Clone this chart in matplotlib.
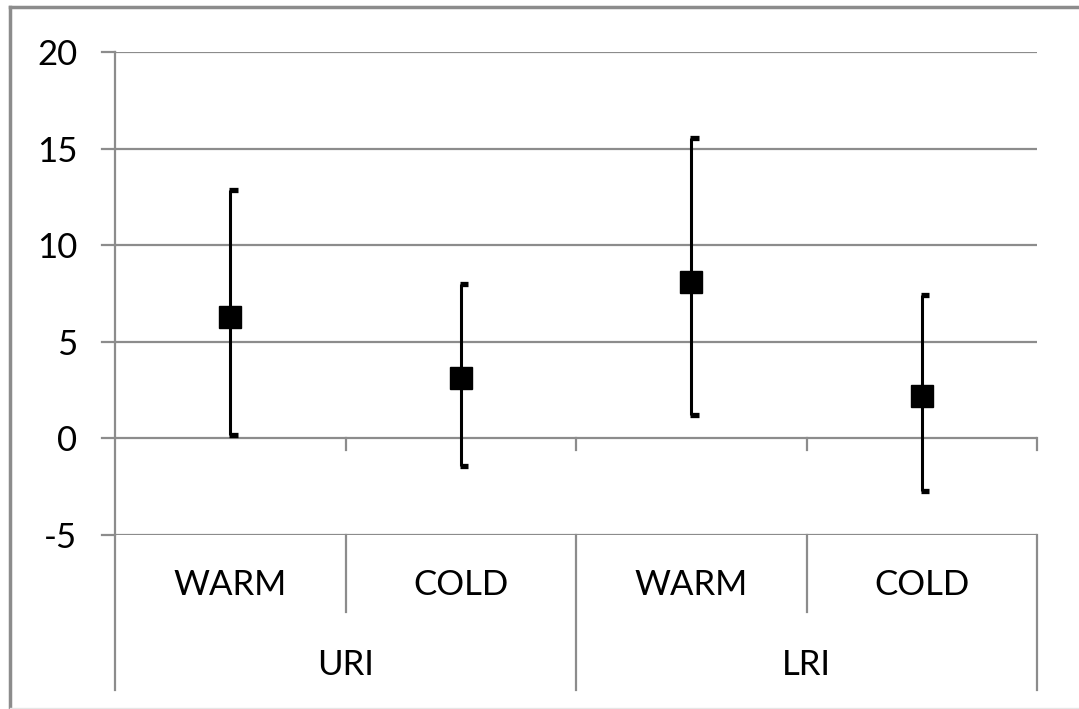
import matplotlib
matplotlib.use("Agg")
import matplotlib.pyplot as plt
from matplotlib.lines import Line2D

groups = ["URI", "LRI"]
conditions = ["WARM", "COLD", "WARM", "COLD"]
means = [6.3, 3.15, 8.1, 2.2]
highs = [12.85, 8.0, 15.55, 7.4]
lows = [0.2, -1.45, 1.2, -2.7]
yticks = [-5, 0, 5, 10, 15, 20]

GRID = "#8c8c8c"
plt.rcParams["font.family"] = ["Lato", "DejaVu Sans"]

fig = plt.figure(figsize=(10.79, 7.09), dpi=100)
W, H = 1079, 709
left, right, top, bottom = 115 / W, 1037 / W, 1 - 52 / H, 1 - 535 / H
ax = fig.add_axes([left, bottom, right - left, top - bottom])

n = len(conditions)
xs = [i + 0.5 for i in range(n)]
ax.set_xlim(0, n)
ax.set_ylim(-5, 20)

for y in yticks:
    ax.axhline(y, color=GRID, lw=1.6, zorder=1)

# high-low lines with small right-side ticks
ax.vlines(xs, lows, highs, color="black", lw=2.2, zorder=3)
cap = 0.032
ax.hlines(highs, [x - 0.004 for x in xs], [x + cap for x in xs], color="black", lw=3.8, zorder=3)
ax.hlines(lows, [x - 0.004 for x in xs], [x + cap for x in xs], color="black", lw=3.8, zorder=3)
ax.plot(xs, means, ls="none", marker="s", ms=15.5, color="black", zorder=4)

for s in ax.spines.values():
    s.set_visible(False)
ax.set_xticks([])
ax.set_yticks(yticks)
ax.set_yticklabels([str(v) for v in yticks], fontsize=25)
ax.tick_params(axis="y", length=0, pad=27)

# left axis line with outward ticks
axis_bottom = -(690 - 535) / (535 - 52)
ax.add_line(Line2D([0, 0], [axis_bottom, 1], transform=ax.transAxes, color=GRID, lw=1.6, clip_on=False))
for y in yticks:
    ax.add_line(Line2D([-13 / 922, 0], [(y + 5) / 25] * 2, transform=ax.transAxes,
                       color=GRID, lw=1.6, clip_on=False))

# small ticks on the zero line
bt = ax.get_xaxis_transform()
for i in range(1, n + 1):
    ax.add_line(Line2D([i, i], [0.2, 0.2 - 12 / 483], transform=bt, color=GRID, lw=1.6, clip_on=False))

# two-level category axis
row1 = -(612 - 535) / 483
for i in range(1, n):
    yb = axis_bottom if i % 2 == 0 else row1
    ax.add_line(Line2D([i, i], [0, yb], transform=bt, color=GRID, lw=1.6, clip_on=False))
ax.add_line(Line2D([n, n], [0, axis_bottom], transform=bt, color=GRID, lw=1.6, clip_on=False))

for x, c in zip(xs, conditions):
    ax.text(x, -(585 - 535) / 483, c, transform=bt, ha="center", va="center", fontsize=25)
for j, g in enumerate(groups):
    ax.text(2 * j + 1, -(665 - 535) / 483, g, transform=bt, ha="center", va="center", fontsize=25)

# outer chart border
fig.add_artist(Line2D([10 / W, 10 / W], [0, 1 - 7 / H], transform=fig.transFigure, color=GRID, lw=2.5))
fig.add_artist(Line2D([10 / W, 1], [1 - 7 / H, 1 - 7 / H], transform=fig.transFigure, color=GRID, lw=2.5))
fig.add_artist(Line2D([10 / W, 1], [1 / H, 1 / H], transform=fig.transFigure, color="#e6e6e6", lw=1))

fig.savefig("out.png", dpi=100)
